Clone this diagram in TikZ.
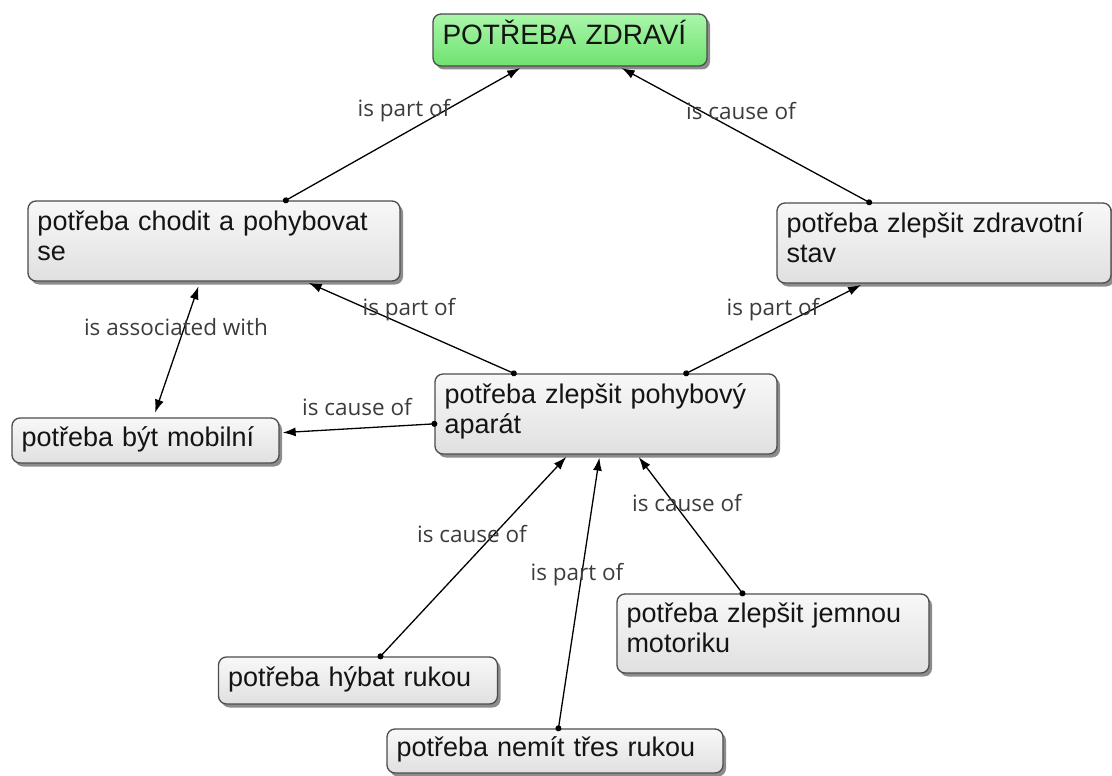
\documentclass[tikz,border=0pt]{standalone}
\usepackage{fontspec}
\newfontfamily\conceptfont{Liberation Sans}
\newfontfamily\linkfont{Open Sans}
\usetikzlibrary{arrows.meta,shadows}

\definecolor{boxedge}{HTML}{4C4C4C}
\definecolor{boxtop}{HTML}{F8F8F8}
\definecolor{boxbottom}{HTML}{E0E0E0}
\definecolor{greentop}{HTML}{AAF6AA}
\definecolor{greenbottom}{HTML}{6FE26F}
\definecolor{conceptink}{HTML}{141414}
\definecolor{linkink}{HTML}{3C3C3C}

\tikzset{
  concept/.style={draw=boxedge, line width=1.3pt, rounded corners=8pt,
    top color=boxtop, bottom color=boxbottom,
    drop shadow={shadow xshift=3pt, shadow yshift=-3.5pt, fill=black!75, opacity=0.6},
    inner xsep=9.5pt, inner ysep=0pt, align=left, text=conceptink,
    font=\conceptfont\fontsize{27}{30}\selectfont, text height=20pt},
  oneline/.style={concept, text depth=9pt},
  twoline/.style={concept, text depth=42pt},
  rootconcept/.style={concept, top color=greentop, bottom color=greenbottom,
    font=\conceptfont\fontsize{28}{32}\selectfont, text depth=10pt},
  linklabel/.style={font=\linkfont\fontsize{22.5}{26}\selectfont, text=linkink,
    inner sep=0pt, text height=16pt, text depth=5pt},
  link/.style={line width=1.3pt, draw=black,
    {Circle[length=6pt]}-{Latex[length=13pt,width=9pt]},
    shorten <=-3pt, shorten >=3pt},
  bilink/.style={line width=1.3pt, draw=black,
    {Latex[length=13pt,width=9pt]}-{Latex[length=13pt,width=9pt]},
    shorten <=5pt, shorten >=5pt},
}

\begin{document}
\begin{tikzpicture}[x=1pt, y=-1pt]
  \path[use as bounding box] (0,0) rectangle (1112,776);

  % concepts
  \node[rootconcept, text width=255pt, minimum height=52pt] (health) at (570,40) {POTŘEBA ZDRAVÍ};
  \node[twoline, text width=353pt, minimum height=80pt] (walk) at (214,241) {potřeba chodit a pohybovat\\se};
  \node[twoline, text width=315pt, minimum height=80pt] (state) at (944,243) {potřeba zlepšit zdravotní\\stav};
  \node[twoline, text width=323pt, minimum height=80pt] (motor) at (606,414) {potřeba zlepšit pohybový\\aparát};
  \node[oneline, text width=248pt, minimum height=45pt] (mobile) at (145.5,440.5) {potřeba být mobilní};
  \node[twoline, text width=293pt, minimum height=79pt] (fine) at (773,633.5) {potřeba zlepšit jemnou\\motoriku};
  \node[oneline, text width=260pt, minimum height=47pt] (hand) at (358,680.5) {potřeba hýbat rukou};
  \node[oneline, text width=317pt, minimum height=44pt] (tremor) at (555,751) {potřeba nemít třes rukou};

  % connectors
  \draw[link] (walk) -- (health);
  \draw[link] (state) -- (health);
  \draw[link] (motor) -- (walk);
  \draw[link] (motor) -- (state);
  \draw[link] (motor) -- (mobile);
  \draw[bilink] (walk) -- (mobile);
  \draw[link] (hand) -- (motor);
  \draw[link] (tremor) -- (motor);
  \draw[link] (fine) -- (motor);

  % link labels
  \node[linklabel] (l1) at (404,111) {is part of};
  \node[linklabel] (l2) at (741,114) {is cause of};
  \node[linklabel] (l3) at (409,310) {is part of};
  \node[linklabel] (l4) at (773,310) {is part of};
  \node[linklabel] (l5) at (357,410) {is cause of};
  \node[linklabel] (l6) at (176,330) {is associated with};
  \node[linklabel] (l7) at (472,537) {is cause of};
  \node[linklabel] (l8) at (577,575) {is part of};
  \node[linklabel] (l9) at (687,506) {is cause of};
\end{tikzpicture}
\end{document}
